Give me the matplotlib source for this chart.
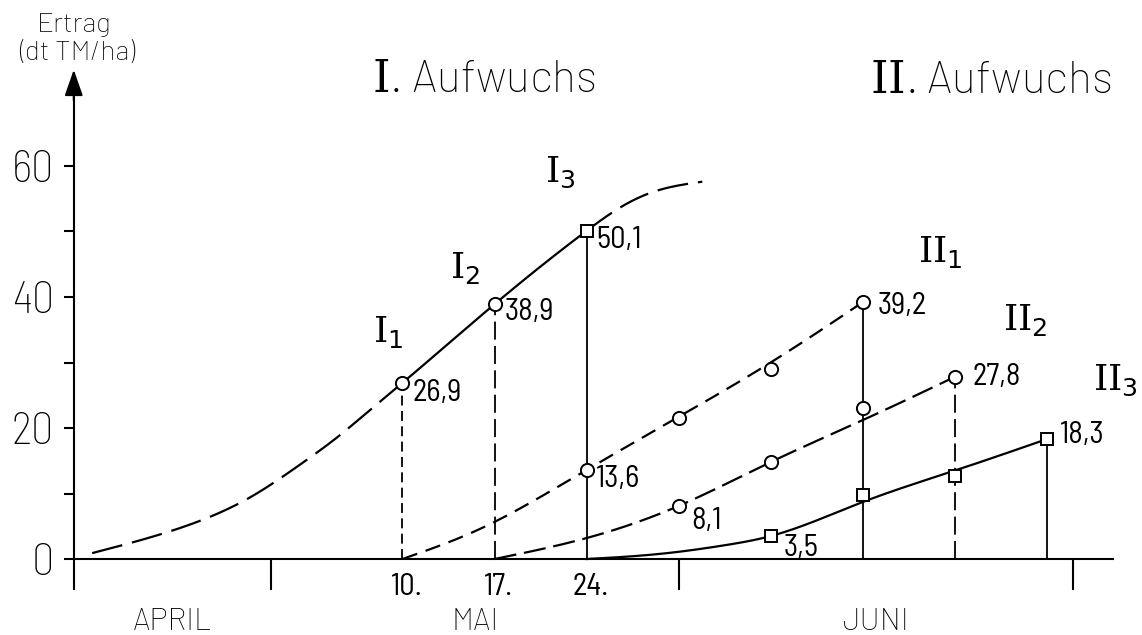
import numpy as np
import matplotlib
matplotlib.use("Agg")
import matplotlib.pyplot as plt

# Tage gezählt ab 30. April (Tag 0 = Grenze April/Mai, 31 = Grenze Mai/Juni)
month_names = ["APRIL", "MAI", "JUNI"]
month_bounds = [-15, 0, 31, 61]

# I. Aufwuchs: Schnitttermine (Mai) und Erträge
cut_days_I = [10, 17, 24]
cut_labels_I = ["10.", "17.", "24."]
yield_I = [26.9, 38.9, 50.1]

# Ausgleichskurve I. Aufwuchs
curve_I_day = [-13.6, -8.2, -4.1, -1.6, 2.2, 5.3, 7.5, 10, 17, 24, 26.5, 29.0, 32.8]
curve_I_val = [0.9, 3.9, 6.9, 9.4, 14.4, 19.0, 22.7, 26.9, 38.9, 50.1, 53.6, 56.0, 57.6]

# II. Aufwuchs: Messpunkte der drei Nachwuchsreihen
days_II1 = [24, 31, 38, 45]
yield_II1 = [13.6, 21.5, 29.0, 39.2]
days_II2 = [31, 38, 45, 52]
yield_II2 = [8.1, 14.8, 23.0, 27.8]
days_II3 = [38, 45, 52, 59]
yield_II3 = [3.5, 9.8, 12.6, 18.3]

# Ausgleichskurven II. Aufwuchs
curve_II1_day = [10, 15.9, 19.9, 24, 31, 38, 45]
curve_II1_val = [0, 4.6, 8.8, 13.6, 21.7, 30.0, 39.2]
curve_II2_day = [17, 24, 31, 38, 45, 52]
curve_II2_val = [0, 3.2, 8.1, 14.8, 21.2, 27.8]
curve_II3_day = [24, 28, 31, 34.5, 38, 45, 52, 59]
curve_II3_val = [0, 0.5, 1.1, 2.1, 3.5, 8.7, 13.5, 18.3]

NUM_FONT = ["Barlow Semi Condensed", "DejaVu Sans"]
TXT_FONT = ["Barlow", "DejaVu Sans"]

plt.rcParams["mathtext.fontset"] = "custom"
plt.rcParams["mathtext.rm"] = "DejaVu Serif"
plt.rcParams["mathtext.sf"] = "DejaVu Sans"


def spline(x, y, xs):
    """Natürlicher kubischer Spline zum Glätten der Kurvenzüge."""
    x = np.asarray(x, float)
    y = np.asarray(y, float)
    n = len(x)
    h = np.diff(x)
    A = np.zeros((n, n))
    r = np.zeros(n)
    A[0, 0] = A[-1, -1] = 1.0
    for i in range(1, n - 1):
        A[i, i - 1] = h[i - 1]
        A[i, i] = 2 * (h[i - 1] + h[i])
        A[i, i + 1] = h[i]
        r[i] = 3 * ((y[i + 1] - y[i]) / h[i] - (y[i] - y[i - 1]) / h[i - 1])
    c = np.linalg.solve(A, r)
    b = (y[1:] - y[:-1]) / h - h * (2 * c[:-1] + c[1:]) / 3
    d = (c[1:] - c[:-1]) / (3 * h)
    idx = np.clip(np.searchsorted(x, xs) - 1, 0, n - 2)
    t = xs - x[idx]
    return y[idx] + b[idx] * t + c[idx] * t**2 + d[idx] * t**3


def smooth(xd, yd, a, b, n=300):
    xs = np.linspace(a, b, n)
    return xs, spline(xd, yd, xs)


def fmt(v):
    return f"{v:.1f}".replace(".", ",")


LW = 1.6
SHORT = (0, (5.5, 3))
MEDIUM = (0, (7, 4))
LONG = (0, (10, 3.5))
XLONG = (0, (14, 4.5))

fig = plt.figure(figsize=(11.42, 6.35), dpi=100)
ax = fig.add_axes([0, 0, 1, 1])
ax.set_xlim(-20.61, 66.24)
ax.set_ylim(-11.6, 85.34)
ax.set_facecolor("white")

# Achsen
for s in ("top", "right"):
    ax.spines[s].set_visible(False)
ax.spines["left"].set_position(("data", month_bounds[0]))
ax.spines["left"].set_bounds(0, 71.5)
ax.spines["bottom"].set_position(("data", 0))
ax.spines["bottom"].set_bounds(month_bounds[0], 64)
for s in ("left", "bottom"):
    ax.spines[s].set_linewidth(1.5)

ax.set_xticks(month_bounds)
ax.set_xticklabels([])
ax.tick_params(axis="x", direction="out", length=22, width=1.5)
ax.set_yticks(range(0, 61, 10))
ax.set_yticklabels(["0", "", "20", "", "40", "", "60"])
ax.tick_params(axis="y", direction="out", length=7, width=1.5, pad=7, labelsize=32)
for lab in ax.get_yticklabels():
    lab.set_family(NUM_FONT)
    lab.set_fontweight("light")

ax.annotate("", xy=(month_bounds[0], 74.7), xytext=(month_bounds[0], 70),
            arrowprops=dict(arrowstyle="-|>,head_length=0.8,head_width=0.28",
                            color="black", lw=1.5, mutation_scale=20,
                            shrinkA=0, shrinkB=0))

# Monatsnamen und Schnitttage
for name, a, b in zip(month_names, month_bounds[:-1], month_bounds[1:]):
    ax.annotate(name, xy=((a + b) / 2, 0), xytext=(0, -63), textcoords="offset pixels",
                ha="center", va="center", fontsize=22, family=TXT_FONT, fontweight="light")
for d, lab in zip(cut_days_I, cut_labels_I):
    ax.annotate(lab, xy=(d, 0), xytext=(4, -28), textcoords="offset pixels",
                ha="center", va="center", fontsize=22, family=NUM_FONT)

# Kurve I. Aufwuchs: gestrichelt - durchgezogen - gestrichelt
x, y = smooth(curve_I_day, curve_I_val, curve_I_day[0], cut_days_I[0])
ax.plot(x, y, color="black", lw=LW, ls=XLONG)
x, y = smooth(curve_I_day, curve_I_val, cut_days_I[0], cut_days_I[-1])
ax.plot(x, y, color="black", lw=LW, ls="-")
x, y = smooth(curve_I_day, curve_I_val, cut_days_I[-1], curve_I_day[-1])
ax.plot(x, y, color="black", lw=LW, ls=XLONG)

# Kurven II. Aufwuchs
x, y = smooth(curve_II1_day, curve_II1_val, curve_II1_day[0], curve_II1_day[-1])
ax.plot(x, y, color="black", lw=LW, ls=MEDIUM)
x, y = smooth(curve_II2_day, curve_II2_val, curve_II2_day[0], curve_II2_day[-1])
ax.plot(x, y, color="black", lw=LW, ls=LONG)
x, y = smooth(curve_II3_day, curve_II3_val, curve_II3_day[0], curve_II3_day[-1])
ax.plot(x, y, color="black", lw=LW, ls="-")

# Senkrechte Linien zu den Schnittterminen
vstyles_I = [SHORT, LONG, "-"]
for d, v, st in zip(cut_days_I, yield_I, vstyles_I):
    ax.plot([d, d], [0, v], color="black", lw=1.3, ls=st)
vstyles_II = ["-", LONG, "-"]
for d, v, st in zip([days_II1[-1], days_II2[-1], days_II3[-1]],
                    [yield_II1[-1], yield_II2[-1], yield_II3[-1]], vstyles_II):
    ax.plot([d, d], [0, v], color="black", lw=1.3, ls=st)

# Messpunkte
mk = dict(color="none", mfc="white", mec="black", mew=1.4, zorder=5)
ax.plot(cut_days_I[:2], yield_I[:2], marker="o", ms=9.5, **mk)
ax.plot(cut_days_I[2:], yield_I[2:], marker="s", ms=8, **mk)
ax.plot(days_II1, yield_II1, marker="o", ms=9.5, **mk)
ax.plot(days_II2, yield_II2, marker="o", ms=9.5, **mk)
ax.plot(days_II3, yield_II3, marker="s", ms=8, **mk)

# Werte an den Punkten
value_marks = [
    (cut_days_I[0], yield_I[0], (10, -10)),
    (cut_days_I[1], yield_I[1], (10, -8)),
    (cut_days_I[2], yield_I[2], (10, -9)),
    (days_II1[0], yield_II1[0], (9, -9)),
    (days_II1[-1], yield_II1[-1], (15, -4)),
    (days_II2[0], yield_II2[0], (13, -15)),
    (days_II2[-1], yield_II2[-1], (18, 0)),
    (days_II3[0], yield_II3[0], (13, -12)),
    (days_II3[-1], yield_II3[-1], (13, 4)),
]
for d, v, off in value_marks:
    ax.annotate(fmt(v), xy=(d, v), xytext=off, textcoords="offset pixels",
                ha="left", va="center", fontsize=22, family=NUM_FONT)


def px(xp, yp):
    return xp / 1142, 1 - yp / 635


# Kennzeichnung der Schnittreihen
series_tags = [
    (r"$\mathrm{I}_{\mathsf{1}}$", 373, 342),
    (r"$\mathrm{I}_{\mathsf{2}}$", 450, 278),
    (r"$\mathrm{I}_{\mathsf{3}}$", 545, 182),
    (r"$\mathrm{II}_{\mathsf{1}}$", 918, 262),
    (r"$\mathrm{II}_{\mathsf{2}}$", 1003, 330),
    (r"$\mathrm{II}_{\mathsf{3}}$", 1093, 390),
]
for tag, xp, yp in series_tags:
    fig.text(*px(xp, yp), tag, fontsize=26, ha="left", va="baseline")

fig.text(*px(372, 92), r"$\mathrm{I}$. Aufwuchs", fontsize=32, family=TXT_FONT,
         fontweight="light", ha="left", va="baseline")
fig.text(*px(870, 93), r"$\mathrm{II}$. Aufwuchs", fontsize=32, family=TXT_FONT,
         fontweight="light", ha="left", va="baseline")
fig.text(*px(74, 32), "Ertrag", fontsize=20, family=TXT_FONT, fontweight="light",
         ha="center", va="baseline")
fig.text(*px(77, 60), "(dt TM/ha)", fontsize=20, family=TXT_FONT, fontweight="light",
         ha="center", va="baseline")

fig.savefig("out.png", dpi=100, facecolor="white")
